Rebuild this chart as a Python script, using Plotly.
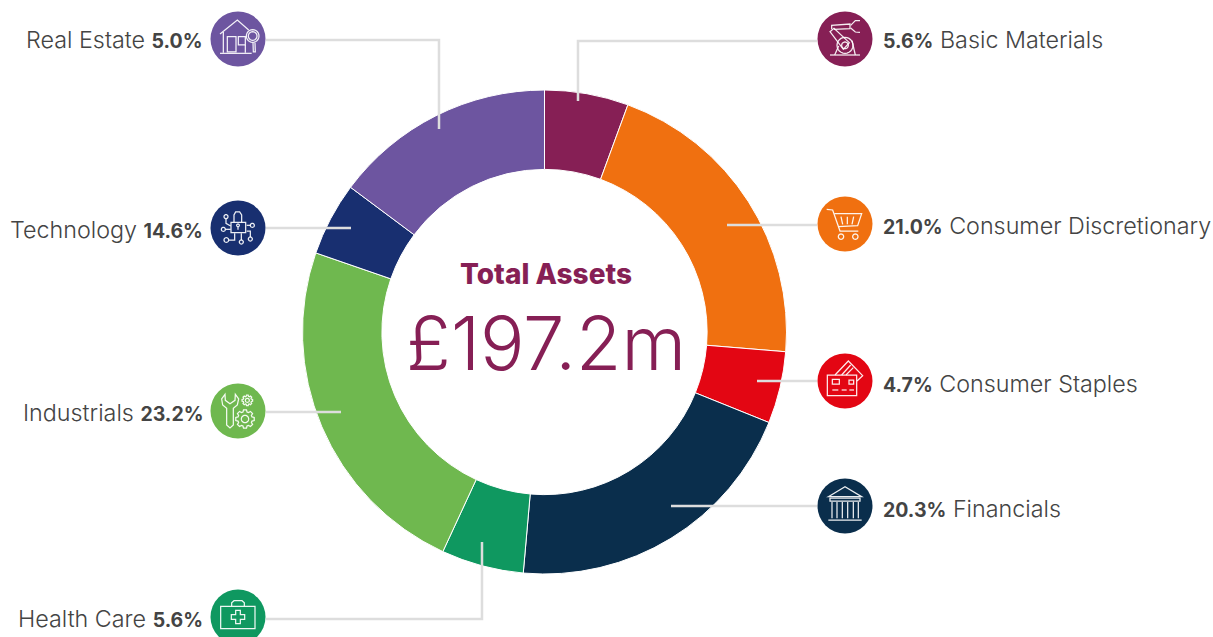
import math
import plotly.graph_objects as go

W, H = 1213, 637

categories = ["Basic Materials", "Consumer Discretionary", "Consumer Staples", "Financials",
              "Health Care", "Industrials", "Technology", "Real Estate"]
slice_values = [5.6, 20.7, 4.8, 20.3, 5.5, 23.4, 4.9, 14.8]
label_values = ["5.6%", "21.0%", "4.7%", "20.3%", "5.6%", "23.2%", "14.6%", "5.0%"]
colors = ["#861F55", "#F07010", "#E30613", "#0A2E4C", "#0F9860", "#6FB84F", "#182F70", "#6D55A0"]

center_title = "Total Assets"
center_value = "£197.2m"

FONT = "Inter"
TEXT = "#444444"
LEADER = "#DDDDDD"


def px(x):
    return x / W


def py(y):
    return 1 - y / H


def to_path(points, close=False):
    s = "M" + " L".join(f"{px(x):.5f},{py(y):.5f}" for x, y in points)
    return s + (" Z" if close else "")


class Icon:
    """Line-art icon, coordinates given in 3x units from an origin pixel."""

    def __init__(self, ox, oy):
        self.ox, self.oy, self.paths = ox, oy, []

    def z(self, p):
        return (self.ox + p[0] / 3, self.oy + p[1] / 3)

    def line(self, *pts, close=False):
        self.paths.append(to_path([self.z(p) for p in pts], close))

    def rect(self, x0, y0, x1, y1):
        self.line((x0, y0), (x1, y0), (x1, y1), (x0, y1), close=True)

    def circle(self, cx, cy, r):
        pts = [(cx + r * math.cos(i * math.pi / 12), cy + r * math.sin(i * math.pi / 12)) for i in range(24)]
        self.line(*pts, close=True)

    def gear(self, cx, cy, r, teeth=8):
        pts = []
        for i in range(teeth):
            a = i * 2 * math.pi / teeth
            step = 2 * math.pi / teeth
            for da, rr in [(-0.3, r * 0.78), (-0.17, r), (0.17, r), (0.3, r * 0.78)]:
                t = a + da * step * 1.2
                pts.append((cx + rr * math.cos(t), cy + rr * math.sin(t)))
        self.line(*pts, close=True)


shapes = []


def leader(*pts):
    shapes.append(dict(type="path", xref="paper", yref="paper", path=to_path(pts),
                       line=dict(color=LEADER, width=2.5), layer="above"))


def disc(cx, cy, color):
    r = 27.5
    shapes.append(dict(type="circle", xref="paper", yref="paper", x0=px(cx - r), x1=px(cx + r),
                       y0=py(cy + r), y1=py(cy - r), fillcolor=color, line=dict(width=0), layer="above"))


def draw(icon, width=1.25):
    for p in icon.paths:
        shapes.append(dict(type="path", xref="paper", yref="paper", path=p,
                           line=dict(color="rgba(255,255,255,0.92)", width=width), layer="above"))


# leader lines
leader((266, 40), (439, 40), (439, 129))
leader((266, 228), (351, 228))
leader((266, 412), (341, 412))
leader((266, 619), (482, 619), (482, 542))
leader((817, 41), (578, 41), (578, 101))
leader((817, 225), (727, 225))
leader((817, 381), (757, 381))
leader((817, 506), (671, 506))

# discs
discs = {"Real Estate": (238, 39), "Technology": (238, 228), "Industrials": (238, 411), "Health Care": (238, 617),
         "Basic Materials": (845, 39), "Consumer Discretionary": (845, 224), "Consumer Staples": (845, 381),
         "Financials": (845, 506)}
for name, (cx, cy) in discs.items():
    disc(cx, cy, colors[categories.index(name)])

# Real Estate icon
i = Icon(200, 0)
i.line((60, 102), (112, 60), (146, 90))
i.line((70, 96), (70, 158))
i.line((60, 160), (155, 160))
i.rect(82, 110, 108, 156)
i.rect(115, 110, 136, 135)
i.line((136, 135), (136, 158))
i.circle(158, 108, 19)
i.circle(158, 108, 13)
i.line((159, 128), (160, 156), (166, 156), (165, 128))
draw(i)

# Technology icon
i = Icon(200, 190)
i.rect(93, 97, 137, 128)
i.line((102, 97), (102, 75), (107, 66), (119, 66), (125, 75), (125, 97))
i.circle(114, 106, 4)
i.line((114, 110), (114, 119))
i.circle(78, 80, 6)
i.line((78, 86), (78, 100), (92, 108))
i.circle(70, 118, 6)
i.line((76, 118), (92, 118))
i.circle(79, 150, 7)
i.line((86, 150), (104, 150), (104, 130))
i.circle(124, 156, 6)
i.line((124, 150), (124, 130))
i.circle(157, 106, 6)
i.line((151, 106), (140, 106))
i.circle(151, 147, 6)
i.line((151, 141), (151, 123), (140, 123))
draw(i)

# Industrials icon
i = Icon(200, 375)
i.line((75, 58), (65, 72), (68, 90), (80, 100), (80, 150), (90, 159), (100, 150), (100, 100),
       (112, 90), (116, 72), (106, 58), (105, 76), (90, 86), (76, 76), close=True)
i.gear(142, 76, 16)
i.circle(142, 76, 6)
i.gear(135, 132, 28)
i.circle(135, 132, 11)
draw(i)

# Health Care icon
i = Icon(200, 577)
i.rect(62, 88, 165, 155)
i.line((95, 88), (95, 77), (102, 71), (126, 71), (133, 77), (133, 88))
i.line((107, 100), (121, 100), (121, 113), (134, 113), (134, 127), (121, 127), (121, 140), (107, 140),
       (107, 127), (94, 127), (94, 113), (107, 113), close=True)
draw(i)

# Basic Materials icon
i = Icon(810, 0)
i.line((60, 165), (150, 165))
i.line((74, 165), (86, 138))
i.line((136, 165), (126, 122))
i.circle(105, 136, 24)
i.circle(105, 136, 10)
i.line((60, 95), (72, 85), (118, 128), (100, 148), close=True)
i.line((65, 88), (65, 76), (120, 72), (120, 86), (72, 88))
i.line((122, 76), (136, 62), (150, 62))
i.line((122, 84), (136, 96), (150, 97))
draw(i)

# Consumer Discretionary icon
i = Icon(810, 185)
i.line((50, 73), (68, 75), (90, 138), (145, 138))
i.line((73, 86), (155, 86), (143, 122), (85, 125))
i.line((93, 95), (98, 118))
i.line((112, 95), (112, 118))
i.line((131, 95), (126, 118))
i.circle(93, 155, 8)
i.circle(136, 155, 8)
draw(i)

# Consumer Staples icon
i = Icon(810, 345)
i.rect(52, 90, 140, 152)
i.rect(67, 103, 88, 117)
i.rect(117, 105, 131, 117)
i.line((67, 135), (85, 135))
i.line((95, 135), (110, 135))
i.line((118, 135), (132, 135))
i.line((75, 90), (115, 48), (158, 92), (141, 108))
i.line((95, 90), (122, 60))
i.line((108, 90), (130, 68))
draw(i)

# Financials icon
i = Icon(810, 470)
i.line((55, 80), (105, 50), (155, 80), close=True)
i.rect(60, 84, 150, 93)
for a, b in [(66, 81), (97, 113), (130, 145)]:
    i.line((a, 96), (a, 145))
    i.line((b, 96), (b, 145))
i.line((55, 150), (155, 150))
draw(i)

fig = go.Figure(go.Pie(
    labels=categories, values=slice_values, sort=False, direction="clockwise", rotation=0,
    hole=0.672, textinfo="none", hoverinfo="label+percent", showlegend=False,
    marker=dict(colors=colors, line=dict(color="#FFFFFF", width=1)),
    domain=dict(x=[px(302.5), px(786.5)], y=[py(574), py(90)]),
))

annotations = []
NAME_SIZE = 23.3
VALUE_SIZE = 19.5


def label(x, y, text, anchor):
    annotations.append(dict(xref="paper", yref="paper", x=px(x), y=py(y), text=text, showarrow=False,
                            xanchor=anchor, yanchor="middle",
                            font=dict(family=FONT, size=NAME_SIZE, color=TEXT, weight=300)))


def bold(value):
    return f'<span style="font-size:{VALUE_SIZE}px"><b>{value}</b></span>'


left = {"Real Estate": 40, "Technology": 229, "Industrials": 412, "Health Care": 618}
right = {"Basic Materials": 40, "Consumer Discretionary": 225, "Consumer Staples": 383, "Financials": 508}
for name, y in left.items():
    label(205, y, f"{name} {bold(label_values[categories.index(name)])}", "right")
for name, y in right.items():
    label(881, y, f"{bold(label_values[categories.index(name)])} {name}", "left")

annotations.append(dict(xref="paper", yref="paper", x=px(546), y=py(274), text=center_title,
                        showarrow=False, xanchor="center", yanchor="middle",
                        font=dict(family=FONT, size=28, color="#861F55", weight=800)))
annotations.append(dict(xref="paper", yref="paper", x=px(546), y=py(343), text=center_value,
                        showarrow=False, xanchor="center", yanchor="middle",
                        font=dict(family=FONT, size=74, color="#861F55", weight=300)))

fig.update_layout(width=W, height=H, margin=dict(l=0, r=0, t=0, b=0), paper_bgcolor="#FFFFFF",
                  plot_bgcolor="#FFFFFF", shapes=shapes, annotations=annotations, showlegend=False)

fig.write_html("out.html", config={"displayModeBar": False},
               post_script="document.body.style.margin='0';document.documentElement.style.overflow='hidden';")
